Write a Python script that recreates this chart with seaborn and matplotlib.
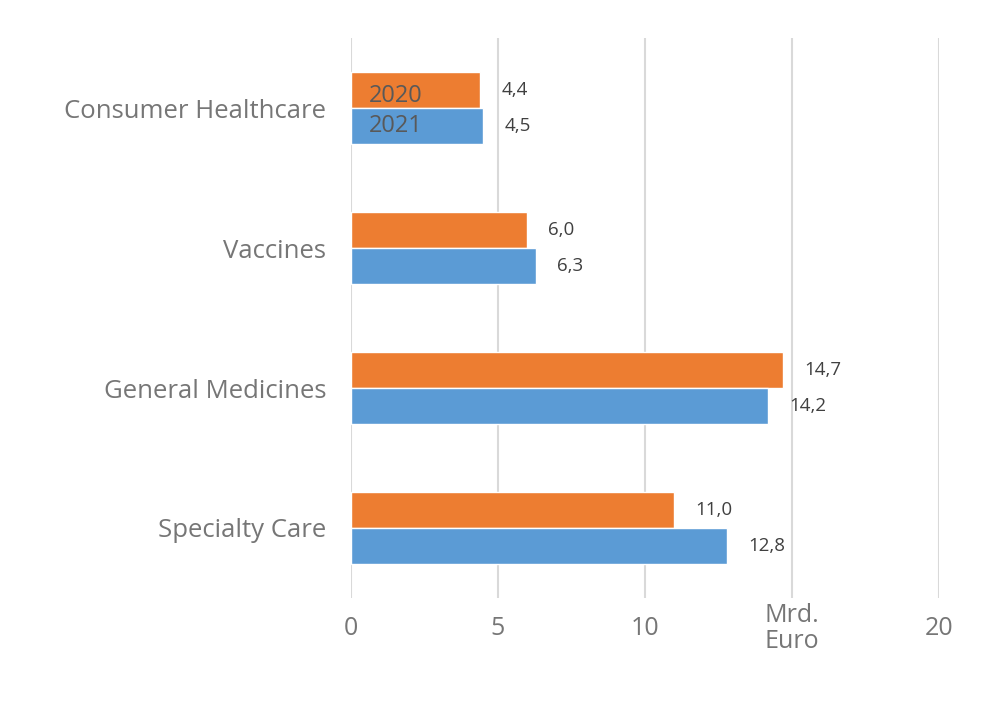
import pandas as pd
import matplotlib.pyplot as plt
import seaborn as sns

categories = ['Consumer Healthcare', 'Vaccines', 'General Medicines', 'Specialty Care']
years = ['2020', '2021']
sales2020 = [4.4, 6.0, 14.7, 11.0]
sales2021 = [4.5, 6.3, 14.2, 12.8]
xticks = [0, 5, 10, 15, 20]
xticklabels = ['0', '5', '10', 'Mrd.\nEuro', '20']

sns.set_style('white')
plt.rcParams['font.family'] = ['Open Sans', 'DejaVu Sans']

df = pd.DataFrame({
    'Bereich': categories * 2,
    'Jahr': ['2020'] * len(categories) + ['2021'] * len(categories),
    'Umsatz': sales2020 + sales2021,
})

fig = plt.figure(figsize=(10, 7.06), dpi=100)
ax = fig.add_axes([0.351, 0.153, 0.588, 0.793])

sns.barplot(data=df, y='Bereich', x='Umsatz', hue='Jahr', hue_order=years,
            order=categories, palette=['#ED7D31', '#5B9BD5'], width=0.52,
            orient='h', ax=ax, legend=False, saturation=1)

grey = '#767676'
ax.set_xlim(0, 20)
ax.set_ylim(3.5, -0.5)
ax.set_xticks(xticks)
ax.set_xticklabels(xticklabels, fontsize=18, color=grey, va='center', linespacing=1.05)
ax.tick_params(axis='x', length=0, pad=22)
ax.tick_params(axis='y', length=0, pad=18, labelsize=18.5, labelcolor=grey)
ax.set_xlabel('')
ax.set_ylabel('')
ax.xaxis.grid(True, color='#d9d9d9', linewidth=1.5)
ax.set_axisbelow(True)
for s in ax.spines.values():
    s.set_visible(False)

for container in ax.containers:
    labels = [('%.1f' % v).replace('.', ',') for v in container.datavalues]
    ax.bar_label(container, labels=labels, padding=15, fontsize=13.5, color='#404040')

# legend text sitting inside the first pair of bars
ax.text(0.6, 0 - 0.085, '2020', fontsize=17, color='#595959', va='center')
ax.text(0.6, 0 + 0.125, '2021', fontsize=17, color='#595959', va='center')

fig.savefig('out.png', dpi=100)
